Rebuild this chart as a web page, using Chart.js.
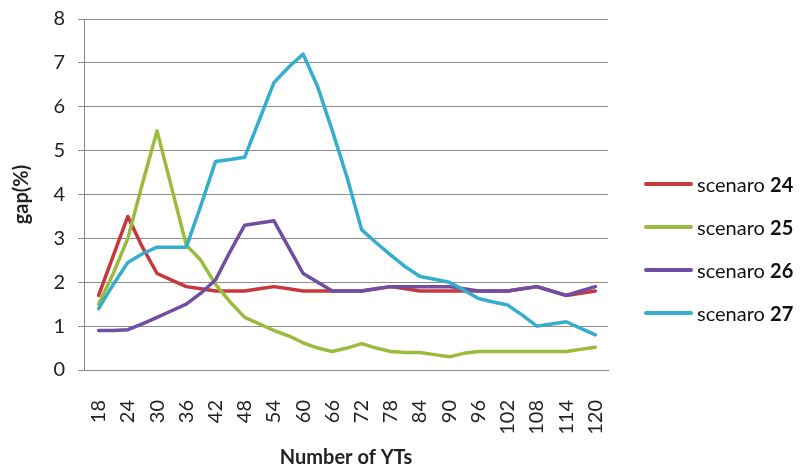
<!DOCTYPE html>
<html>
<head>
<meta charset="utf-8">
<script src="https://cdn.jsdelivr.net/npm/chart.js@4.4.0/dist/chart.umd.min.js"></script>
<style>
  html, body { margin: 0; padding: 0; background: #fff; }
  #wrap { position: relative; width: 803px; height: 472px; }
  #legend { position: absolute; left: 644px; top: 0; font-family: Lato, sans-serif; font-size: 20px; color: #111; }
  .item { position: absolute; left: 0; white-space: nowrap; height: 24px; line-height: 24px; }
  .swatch { position: absolute; left: 0; top: 10px; width: 49px; height: 4px; border-radius: 2px; }
  .txt { position: absolute; left: 53px; top: 0; }
</style>
</head>
<body>
<div id="wrap">
  <canvas id="gapChart" width="803" height="472"></canvas>
  <div id="legend"></div>
</div>
<script>
// --- datos ---
const xValues = [18, 21, 24, 27, 30, 33, 36, 39, 42, 45, 48, 51, 54, 57, 60, 63, 66, 69,
                 72, 75, 78, 81, 84, 87, 90, 93, 96, 99, 102, 105, 108, 111, 114, 117, 120];
const tickLabels = [18, 24, 30, 36, 42, 48, 54, 60, 66, 72, 78, 84, 90, 96, 102, 108, 114, 120];

const scenario24 = [1.7, 2.6, 3.5, 2.8, 2.2, 2.05, 1.9, 1.85, 1.8, 1.8, 1.8, 1.85, 1.9, 1.85, 1.8, 1.8, 1.8, 1.8,
                    1.8, 1.85, 1.9, 1.85, 1.8, 1.8, 1.8, 1.8, 1.8, 1.8, 1.8, 1.85, 1.9, 1.8, 1.7, 1.75, 1.8];
const scenario25 = [1.5, 2.2, 3.0, 4.25, 5.45, 4.15, 2.85, 2.5, 1.95, 1.55, 1.2, 1.05, 0.9, 0.78, 0.62, 0.5, 0.42, 0.5,
                    0.6, 0.5, 0.42, 0.4, 0.4, 0.35, 0.3, 0.38, 0.42, 0.42, 0.42, 0.42, 0.42, 0.42, 0.42, 0.47, 0.52];
const scenario26 = [0.9, 0.9, 0.92, 1.05, 1.2, 1.35, 1.5, 1.75, 2.05, 2.7, 3.3, 3.35, 3.4, 2.8, 2.2, 2.0, 1.8, 1.8,
                    1.8, 1.85, 1.9, 1.9, 1.9, 1.9, 1.9, 1.85, 1.8, 1.8, 1.8, 1.85, 1.9, 1.8, 1.7, 1.8, 1.9];
const scenario27 = [1.4, 1.95, 2.45, 2.65, 2.8, 2.8, 2.8, 3.75, 4.75, 4.8, 4.85, 5.7, 6.55, 6.9, 7.2, 6.45, 5.45, 4.4,
                    3.2, 2.9, 2.62, 2.35, 2.13, 2.07, 2.0, 1.82, 1.63, 1.55, 1.48, 1.25, 1.0, 1.05, 1.1, 0.95, 0.8];

const seriesNames = ['scenaro 24', 'scenaro 25', 'scenaro 26', 'scenaro 27'];
const seriesColors = ['#C9373C', '#9BBB3C', '#6F4EA3', '#34AECD'];
const allSeries = [scenario24, scenario25, scenario26, scenario27];

const FONT = 'Lato, "Open Sans", sans-serif';

const datasets = allSeries.map((vals, i) => ({
    label: seriesNames[i],
    data: xValues.map((x, j) => ({ x: x, y: vals[j] })),
    borderColor: seriesColors[i],
    backgroundColor: seriesColors[i],
    borderWidth: 3.5,
    pointRadius: 0,
    tension: 0,
    fill: false,
    order: 3 - i   // el ultimo (27) se dibuja encima
}));

const ctx = document.getElementById('gapChart').getContext('2d');
const gapChart = new Chart(ctx, {
    type: 'line',
    data: { datasets: datasets },
    options: {
        responsive: false,
        animation: false,
        layout: { padding: { left: 0, right: 195, top: 19, bottom: 0 } },
        plugins: { legend: { display: false }, tooltip: { enabled: false } },
        elements: { line: { borderJoinStyle: 'round', borderCapStyle: 'round' } },
        scales: {
            x: {
                type: 'linear',
                min: 15,
                max: 122.6,
                afterBuildTicks: s => { s.ticks = tickLabels.map(v => ({ value: v })); },
                grid: { display: false },
                border: { display: true, color: '#868686', width: 1 },
                ticks: {
                    autoSkip: false, minRotation: 90, maxRotation: 90, padding: 22,
                    color: '#222', font: { family: FONT, size: 20 },
                    callback: v => String(v)
                },
                title: {
                    display: true, text: 'Number of YTs', color: '#222',
                    font: { family: FONT, size: 20, weight: 'bold' },
                    padding: { top: 4, bottom: 2 }
                },
                afterFit: s => { s.height = 102; s.paddingLeft = 0; s.paddingRight = 0; }
            },
            y: {
                min: 0,
                max: 8,
                ticks: { stepSize: 1, padding: 13, color: '#222', font: { family: FONT, size: 20 } },
                grid: { color: '#8c8c8c', lineWidth: 1, tickLength: 6 },
                border: { color: '#868686', width: 1 },
                title: {
                    display: true, text: 'gap(%)', color: '#222',
                    font: { family: FONT, size: 20, weight: 'bold' },
                    padding: { top: 10, bottom: 0 }
                },
                afterFit: s => { s.width = 84; s.paddingTop = 0; s.paddingBottom = 0; }
            }
        }
    }
});

// leyenda a mano (numero en negrita)
const legendRows = [184, 227, 270, 313];
const legendBox = document.getElementById('legend');
seriesNames.forEach((name, i) => {
    const parts = name.split(' ');
    const item = document.createElement('div');
    item.className = 'item';
    item.style.top = (legendRows[i] - 12) + 'px';
    item.innerHTML = '<span class="swatch" style="background:' + seriesColors[i] + '"></span>' +
        '<span class="txt">' + parts[0] + ' <b>' + parts[1] + '</b></span>';
    legendBox.appendChild(item);
});
</script>
</body>
</html>
